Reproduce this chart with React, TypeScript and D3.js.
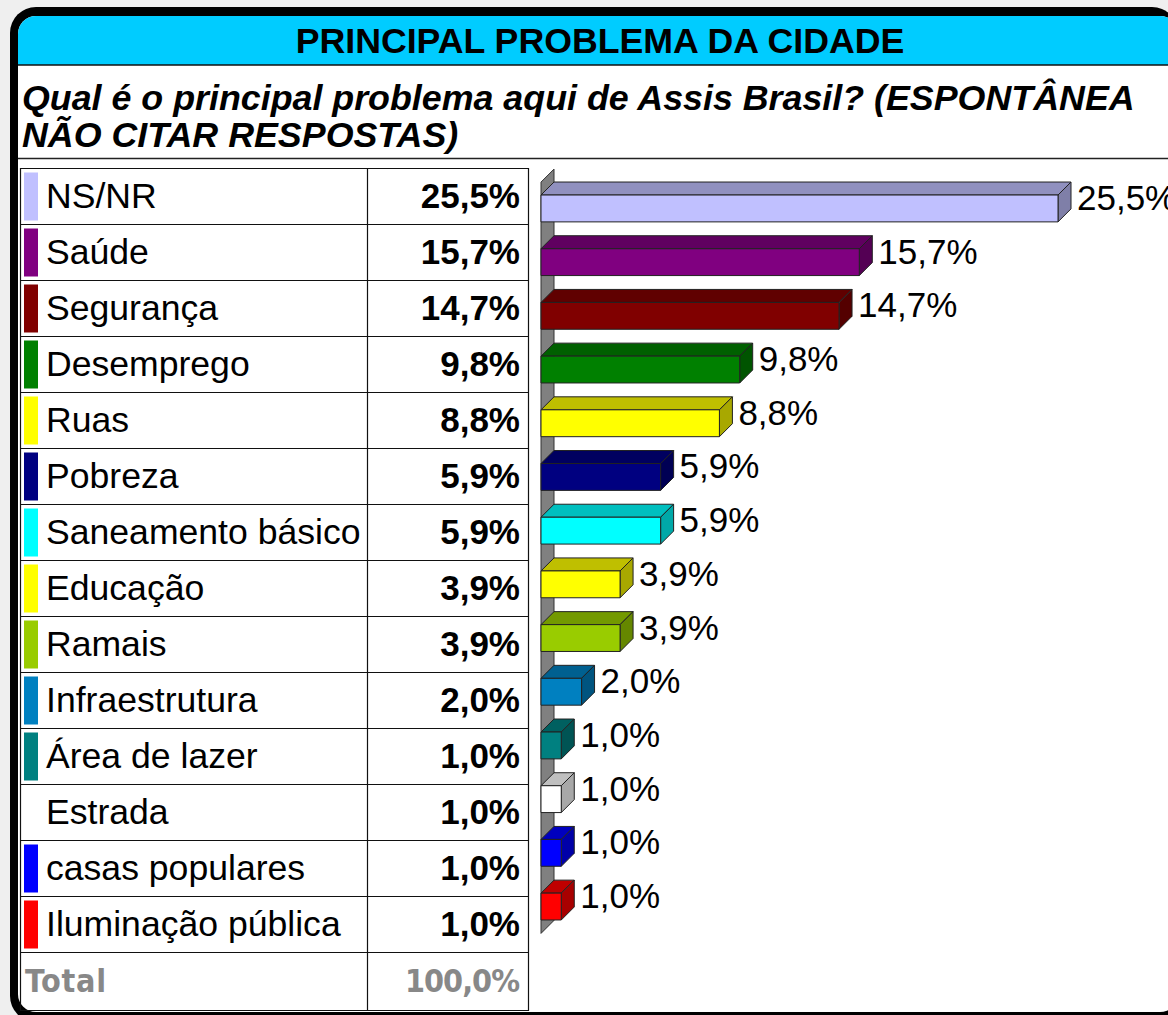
import React from "react";
import * as d3 from "d3";

const categories = [
  "NS/NR",
  "Saúde",
  "Segurança",
  "Desemprego",
  "Ruas",
  "Pobreza",
  "Saneamento básico",
  "Educação",
  "Ramais",
  "Infraestrutura",
  "Área de lazer",
  "Estrada",
  "casas populares",
  "Iluminação pública",
];
const values = [25.5, 15.7, 14.7, 9.8, 8.8, 5.9, 5.9, 3.9, 3.9, 2.0, 1.0, 1.0, 1.0, 1.0];
const colors = [
  "#c0c0ff",
  "#800080",
  "#800000",
  "#008000",
  "#ffff00",
  "#000080",
  "#00ffff",
  "#ffff00",
  "#99cc00",
  "#0080c0",
  "#008080",
  "#ffffff",
  "#0000ff",
  "#ff0000",
];
const titleText = "PRINCIPAL PROBLEMA DA CIDADE";
const subtitleLines = [
  "Qual é o principal problema aqui de Assis Brasil? (ESPONTÂNEA",
  "NÃO CITAR RESPOSTAS)",
];
const totalLabel = "Total";
const totalValue = "100,0%";

const fmt = (v: number) => v.toFixed(1).replace(".", ",") + "%";
const shade = (c: string, k: number) => {
  const r = d3.rgb(c);
  return d3.rgb(r.r * k, r.g * k, r.b * k).formatHex();
};

const W = 1168;
const H = 1015;
const FONT = "'Liberation Sans', Arial, sans-serif";

export default function App() {
  // table geometry
  const tableLeft = 20.5;
  const tableRight = 528.5;
  const colDiv = 367.5;
  const tableTop = 168;
  const rowH = 56;
  const nRows = categories.length + 1;
  const rowY = d3.scaleLinear().domain([0, nRows - 1]).range([tableTop, tableTop + rowH * (nRows - 1)]);
  const tableBottom = 1010;

  // bar chart scales
  const x = d3.scaleLinear().domain([0, 25.5]).range([541, 1058]);
  const y = d3
    .scaleBand<string>()
    .domain(categories)
    .range([181.6, 933.4])
    .paddingInner(0.5)
    .paddingOuter(0.25);
  const bw = y.bandwidth();
  const d = 13;
  const [yr0, yr1] = y.range();
  const x0 = x(0);

  return (
    <div style={{ position: "absolute", left: 0, top: 0 }}>
      <svg width={W} height={H} style={{ display: "block" }}>
        <defs>
          <clipPath id="inner">
            <rect x={18} y={16} width={1160} height={996} rx={18} />
          </clipPath>
        </defs>
        <rect x={0} y={0} width={W} height={H} fill="#efefef" />
        {/* frame */}
        <rect x={10} y={7} width={1168} height={1015} rx={26} fill="#000" />
        <rect x={18} y={16} width={1160} height={996} rx={18} fill="#fff" />
        <g clipPath="url(#inner)">
          <rect x={18} y={16} width={1160} height={49} fill="#00ccff" />
          <line x1={18} x2={1178} y1={65} y2={65} stroke="#111" strokeWidth={1.5} />
          <line x1={18} x2={1178} y1={158.5} y2={158.5} stroke="#222" strokeWidth={1.5} />
        </g>
        <text
          x={600}
          y={53}
          textAnchor="middle"
          fontFamily={FONT}
          fontWeight="bold"
          fontSize={35.7}
          fill="#000"
        >
          {titleText}
        </text>
        {subtitleLines.map((t, i) => (
          <text
            key={i}
            x={22}
            y={110 + i * 37}
            fontFamily={FONT}
            fontWeight="bold"
            fontStyle="italic"
            fontSize={35.8}
            fill="#000"
          >
            {t}
          </text>
        ))}

        {/* table */}
        <g>
          {d3.range(nRows + 1).map((i) => {
            const yy = i === nRows ? tableBottom : rowY(i);
            return (
              <line
                key={"h" + i}
                x1={tableLeft}
                x2={tableRight}
                y1={yy + 0.5}
                y2={yy + 0.5}
                stroke="#111"
                strokeWidth={1.2}
              />
            );
          })}
          {[tableLeft, colDiv, tableRight].map((xx, i) => (
            <line
              key={"v" + i}
              x1={xx}
              x2={xx}
              y1={tableTop}
              y2={tableBottom + 1}
              stroke="#111"
              strokeWidth={1.2}
            />
          ))}
          {categories.map((c, i) => {
            const top = rowY(i);
            return (
              <g key={c}>
                <rect x={24} y={top + 4.5} width={14} height={48} fill={colors[i]} />
                <text x={46} y={top + 40} fontFamily={FONT} fontSize={35.6} fill="#000">
                  {c}
                </text>
                <text
                  x={520}
                  y={top + 40}
                  textAnchor="end"
                  fontFamily={FONT}
                  fontWeight="bold"
                  fontSize={35}
                  fill="#000"
                >
                  {fmt(values[i])}
                </text>
              </g>
            );
          })}
          <text
            x={25}
            y={rowY(nRows - 1) + 40}
            fontFamily="'DejaVu Sans Condensed', 'DejaVu Sans', sans-serif"
            fontWeight="bold"
            fontSize={32}
            fill="#888"
            textLength={81}
          >
            {totalLabel}
          </text>
          <text
            x={520}
            y={rowY(nRows - 1) + 40}
            textAnchor="end"
            fontFamily="'DejaVu Sans Condensed', 'DejaVu Sans', sans-serif"
            fontWeight="bold"
            fontSize={32}
            fill="#888"
            textLength={115}
          >
            {totalValue}
          </text>
        </g>

        {/* 3D wall */}
        <polygon
          points={`${x0},${yr0 + 0.5} ${x0 + d},${yr0 - d + 0.5} ${x0 + d},${yr1 - d} ${x0},${yr1}`}
          fill="#808080"
          stroke="#333"
          strokeWidth={1}
        />

        {/* bars */}
        {categories.map((c, i) => {
          const top = y(c)!;
          const x1 = x(values[i]);
          const col = colors[i];
          return (
            <g key={"b" + c} stroke="#222" strokeWidth={1} strokeLinejoin="round">
              <polygon
                points={`${x0},${top} ${x0 + d},${top - d} ${x1 + d},${top - d} ${x1},${top}`}
                fill={shade(col, 0.75)}
              />
              <polygon
                points={`${x1},${top} ${x1 + d},${top - d} ${x1 + d},${top - d + bw} ${x1},${top + bw}`}
                fill={shade(col, 0.66)}
              />
              <rect x={x0} y={top} width={x1 - x0} height={bw} fill={col} />
              <text
                x={x1 + d + 6}
                y={top + bw / 2 + 1.5}
                stroke="none"
                fontFamily={FONT}
                fontSize={35}
                fill="#000"
              >
                {fmt(values[i])}
              </text>
            </g>
          );
        })}
      </svg>
    </div>
  );
}
